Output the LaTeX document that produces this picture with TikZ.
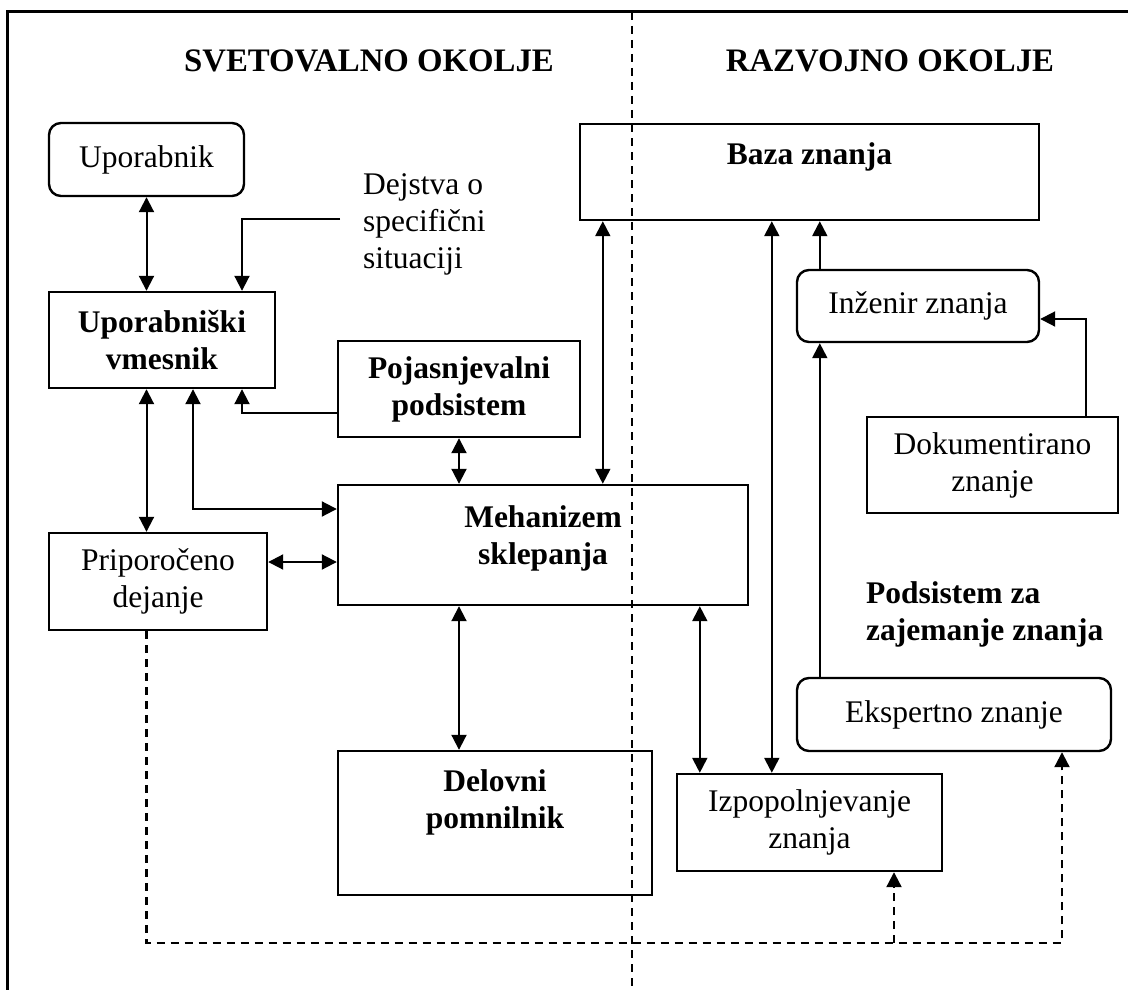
\documentclass[tikz,border=0pt]{standalone}
\usepackage{fontspec}
\setmainfont{Liberation Serif}
\usetikzlibrary{arrows.meta}
\newcommand{\dfont}{\fontsize{31.5pt}{37pt}\selectfont}
\newcommand{\tfont}{\fontsize{32.8pt}{38pt}\selectfont}
\begin{document}
\begin{tikzpicture}[x=1pt,y=-1pt,
  box/.style={draw, line width=2.4pt, rectangle, inner sep=0pt, align=center, font=\dfont},
  rbox/.style={box, rounded corners=12pt},
  txt/.style={inner sep=0pt, align=center, font=\dfont},
  btxt/.style={inner sep=0pt, align=center, font=\dfont\bfseries},
  sarrow/.style={line width=2pt, -{Triangle[length=15pt,width=15pt]}},
  darrow/.style={line width=2pt, {Triangle[length=15pt,width=15pt]}-{Triangle[length=15pt,width=15pt]}},
  dashline/.style={line width=2.2pt, dash pattern=on 8pt off 6pt},
]
\useasboundingbox (0,0) rectangle (1128,990);

% frame and divider
\coordinate (fbl) at (7,990);
\coordinate (ftl) at (7,12);
\coordinate (ftr) at (1128,12);
\draw[line width=3pt] (fbl) -- (ftl) -- (ftr);
\coordinate (divt) at (632,12);
\coordinate (divb) at (632,990);
\draw[dashline] (divt) -- (divb);

% titles
\node[btxt, font=\tfont\bfseries, anchor=base] (svet) at (369,72) {SVETOVALNO OKOLJE};
\node[btxt, font=\tfont\bfseries, anchor=base] (razv) at (890,72) {RAZVOJNO OKOLJE};

% boxes
\node[rbox, minimum width=195pt, minimum height=73pt] (upor) at (146.5,159.5) {Uporabnik};
\node[box, font=\dfont\bfseries, minimum width=226pt, minimum height=96pt] (vmes) at (162,340) {Uporabniški\\vmesnik};
\node[box, minimum width=459pt, minimum height=96pt] (baza) at (809.5,172) {};
\node[btxt, anchor=base] (bazat) at (809.5,164) {Baza znanja};
\node[rbox, minimum width=242pt, minimum height=72pt] (inz) at (918,306) {Inženir znanja};
\node[box, font=\dfont\bfseries, minimum width=242pt, minimum height=96pt] (pojas) at (459,389) {Pojasnjevalni\\podsistem};
\node[box, minimum width=251pt, minimum height=96pt] (doku) at (992.5,465) {Dokumentirano\\znanje};
\node[box, minimum width=410pt, minimum height=120pt] (meh) at (543,545) {};
\node[btxt, anchor=north] (meht) at (543,505) {Mehanizem\\sklepanja};
\node[box, minimum width=218pt, minimum height=97pt] (prip) at (158,581.5) {Priporočeno\\dejanje};
\node[rbox, minimum width=314pt, minimum height=73pt] (eksp) at (954,714.5) {Ekspertno znanje};
\node[box, minimum width=314pt, minimum height=144pt] (delo) at (495,823) {};
\node[btxt, anchor=north] (delot) at (495,769) {Delovni\\pomnilnik};
\node[box, minimum width=265pt, minimum height=97pt] (izpo) at (809.5,822.5) {Izpopolnjevanje\\znanja};

% free texts
\node[txt, align=left, anchor=north west] (dejs) at (363,173) {Dejstva o\\specifični\\situaciji};
\node[btxt, align=left, anchor=north west] (podz) at (866,581) {Podsistem za\\zajemanje znanja};

% connectors
\draw[darrow] (upor.south) -- (upor.south |- vmes.north);
\coordinate (djs) at (340,219);
\draw[sarrow] (djs) -| ([xshift=80pt]vmes.north);
\draw[darrow] (upor.south |- vmes.south) -- (upor.south |- prip.north);
\draw[sarrow] ([yshift=-24pt]pojas.west) -| ([xshift=80pt]vmes.south);
\draw[darrow] ([xshift=31pt]vmes.south) |- ([yshift=36pt]meh.west);
\coordinate (pe) at ([yshift=19.5pt]prip.east);
\draw[darrow] (pe) -- (pe -| meh.west);
\draw[darrow] (pojas.south) -- (pojas.south |- meh.north);
\coordinate (bm) at ([xshift=24pt]baza.south west);
\draw[darrow] (bm) -- (bm |- meh.north);
\draw[darrow] (pojas.south |- meh.south) -- (pojas.south |- delo.north);
\coordinate (mi) at ([xshift=24pt]izpo.north west);
\draw[darrow] (mi |- meh.south) -- (mi);
\coordinate (bi) at ([xshift=96pt]izpo.north west);
\draw[darrow] (bi |- baza.south) -- (bi);
\coordinate (ib) at ([xshift=24pt]inz.north west);
\draw[sarrow] (ib) -- (ib |- baza.south);
\draw[sarrow] (ib |- eksp.north) -- (ib |- inz.south);
\draw[sarrow] ([xshift=93.5pt]doku.north) |- ([yshift=-13pt]inz.east);

% dashed feedback
\coordinate (dbot) at (0,943);
\coordinate (ie) at ([xshift=84.5pt]izpo.south);
\coordinate (ee) at ([xshift=108pt]eksp.south);
\draw[dashline, -{Triangle[length=15pt,width=15pt]}] (upor.south |- prip.south) -- (upor.south |- dbot) -| (ee);
\draw[dashline, -{Triangle[length=15pt,width=15pt]}] (ie |- dbot) -- (ie);
\end{tikzpicture}
\end{document}
